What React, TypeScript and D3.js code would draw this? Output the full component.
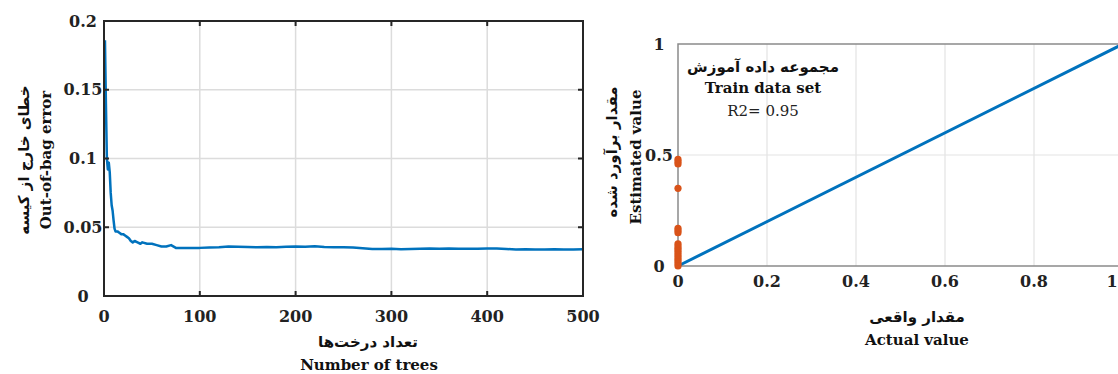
import React from "react";
import * as d3 from "d3";

// left panel: out-of-bag error vs number of trees
const treeCounts = [1, 2, 3, 4, 5, 6, 7, 8, 9, 10, 11, 12, 14, 16, 18, 20, 22, 24, 26, 28, 30, 32, 35, 38, 40, 45, 50, 55, 60, 65, 70, 75, 80, 90, 100, 110, 120, 130, 140, 150, 160, 170, 180, 190, 200, 210, 220, 230, 240, 250, 260, 270, 280, 290, 300, 310, 320, 330, 340, 350, 360, 370, 380, 390, 400, 410, 420, 430, 440, 450, 460, 470, 480, 490, 500];
const oobError = [0.186, 0.14, 0.1, 0.092, 0.097, 0.09, 0.075, 0.066, 0.062, 0.055, 0.049, 0.047, 0.047, 0.046, 0.045, 0.045, 0.044, 0.043, 0.042, 0.04, 0.039, 0.04, 0.039, 0.038, 0.039, 0.038, 0.038, 0.037, 0.036, 0.036, 0.037, 0.035, 0.035, 0.035, 0.035, 0.0352, 0.0355, 0.036, 0.0358, 0.0356, 0.0355, 0.0357, 0.0355, 0.0358, 0.036, 0.0358, 0.0361, 0.0357, 0.0355, 0.0354, 0.0353, 0.0348, 0.0342, 0.0341, 0.0343, 0.034, 0.0342, 0.0344, 0.0345, 0.0344, 0.0346, 0.0344, 0.0343, 0.0343, 0.0346, 0.0345, 0.0342, 0.0339, 0.034, 0.0339, 0.0339, 0.034, 0.0338, 0.0339, 0.034];
const leftXTicks = [0, 100, 200, 300, 400, 500];
const leftYTicks = [0, 0.05, 0.1, 0.15, 0.2];

// right panel: estimated vs actual (train set)
const actualVals = [0, 0, 0, 0, 0, 0, 0, 0, 0, 0, 0, 0, 0, 0, 0, 0, 0, 0];
const estimatedVals = [0, 0.01, 0.02, 0.03, 0.04, 0.05, 0.06, 0.07, 0.08, 0.09, 0.1, 0.15, 0.16, 0.17, 0.35, 0.46, 0.47, 0.48];
const fitLine = [0, 1];
const rightXTicks = [0, 0.2, 0.4, 0.6, 0.8, 1];
const rightYTicks = [0, 0.5, 1];

const serif = "'DejaVu Serif', serif";
const persian = "'DejaVu Sans', sans-serif";
const blue = "#0072BD";
const orange = "#D95319";

export default function App() {
  const lx = d3.scaleLinear().domain([0, 500]).range([104, 583]);
  const ly = d3.scaleLinear().domain([0, 0.2]).range([296, 21]);
  const rx = d3.scaleLinear().domain([0, 1]).range([678, 1123]);
  const ry = d3.scaleLinear().domain([0, 1]).range([266, 44]);

  const oobPath = d3
    .line<number>()
    .x((d, i) => lx(treeCounts[i]))
    .y((d) => ly(d))(oobError);

  const fitPath = d3
    .line<number>()
    .x((d) => rx(d))
    .y((d) => ry(d))(fitLine);

  const fmt = (v: number) => String(v);

  return (
    <svg
      width={1118}
      height={374}
      style={{ position: "absolute", left: 0, top: 0, background: "#fff" }}
    >
      {/* ---------- left panel ---------- */}
      <g>
        {leftXTicks.slice(1, -1).map((t) => (
          <line key={"gx" + t} x1={lx(t)} x2={lx(t)} y1={ly(0)} y2={ly(0.2)} stroke="#dcdcdc" strokeWidth={1.5} />
        ))}
        {leftYTicks.slice(1, -1).map((t) => (
          <line key={"gy" + t} x1={lx(0)} x2={lx(500)} y1={ly(t)} y2={ly(t)} stroke="#dcdcdc" strokeWidth={1.5} />
        ))}
        <path d={oobPath ?? ""} fill="none" stroke={blue} strokeWidth={2.5} strokeLinejoin="round" />
        <rect x={lx(0)} y={ly(0.2)} width={lx(500) - lx(0)} height={ly(0) - ly(0.2)} fill="none" stroke="#262626" strokeWidth={2} />
        {leftXTicks.map((t) => (
          <g key={"tx" + t}>
            <line x1={lx(t)} x2={lx(t)} y1={ly(0)} y2={ly(0) - 5} stroke="#262626" strokeWidth={2} />
            <line x1={lx(t)} x2={lx(t)} y1={ly(0.2)} y2={ly(0.2) + 5} stroke="#262626" strokeWidth={2} />
            <text x={lx(t)} y={322} textAnchor="middle" fontFamily={serif} fontWeight="bold" fontSize={16} fill="#222">
              {fmt(t)}
            </text>
          </g>
        ))}
        {leftYTicks.map((t) => (
          <g key={"ty" + t}>
            <line x1={lx(0)} x2={lx(0) + 5} y1={ly(t)} y2={ly(t)} stroke="#262626" strokeWidth={2} />
            <line x1={lx(500)} x2={lx(500) - 5} y1={ly(t)} y2={ly(t)} stroke="#262626" strokeWidth={2} />
            <text x={83} y={ly(t)} dy="0.35em" textAnchor="middle" fontFamily={serif} fontWeight="bold" fontSize={16} fill="#222">
              {fmt(t)}
            </text>
          </g>
        ))}
        <text transform="translate(29,160) rotate(-90)" textAnchor="middle" fontFamily={persian} fontWeight="bold" fontSize={15} fill="#111" direction="rtl">
          خطای خارج از کیسه
        </text>
        <text transform="translate(51,160) rotate(-90)" textAnchor="middle" fontFamily={serif} fontWeight="bold" fontSize={15} fill="#111">
          Out-of-bag error
        </text>
        <text x={368} y={347} textAnchor="middle" fontFamily={persian} fontWeight="bold" fontSize={15} fill="#111" direction="rtl">
          تعداد درخت‌ها
        </text>
        <text x={369} y={370} textAnchor="middle" fontFamily={serif} fontWeight="bold" fontSize={15} fill="#111">
          Number of trees
        </text>
      </g>

      {/* ---------- right panel ---------- */}
      <g>
        {rightXTicks.slice(1, -1).map((t) => (
          <line key={"rgx" + t} x1={rx(t)} x2={rx(t)} y1={ry(0)} y2={ry(1)} stroke="#e3e3e3" strokeWidth={1.2} />
        ))}
        {rightYTicks.slice(1, -1).map((t) => (
          <line key={"rgy" + t} x1={rx(0)} x2={rx(1)} y1={ry(t)} y2={ry(t)} stroke="#e3e3e3" strokeWidth={1.2} />
        ))}
        <rect x={rx(0)} y={ry(1)} width={rx(1) - rx(0)} height={ry(0) - ry(1)} fill="none" stroke="#8a8a8a" strokeWidth={1.5} />
        <path d={fitPath ?? ""} fill="none" stroke={blue} strokeWidth={3} />
        {estimatedVals.map((v, i) => (
          <circle key={"pt" + i} cx={rx(actualVals[i])} cy={ry(v)} r={3.6} fill={orange} />
        ))}
        {rightXTicks.map((t) => (
          <text key={"rtx" + t} x={Math.min(rx(t), 1112)} y={287} textAnchor="middle" fontFamily={serif} fontWeight="bold" fontSize={16} fill="#222">
            {fmt(t)}
          </text>
        ))}
        {rightYTicks.map((t) => (
          <text key={"rty" + t} x={659} y={ry(t)} dy="0.35em" textAnchor="middle" fontFamily={serif} fontWeight="bold" fontSize={16} fill="#222">
            {fmt(t)}
          </text>
        ))}
        <text x={763} y={72} textAnchor="middle" fontFamily={persian} fontWeight="bold" fontSize={15} fill="#111" direction="rtl">
          مجموعه داده آموزش
        </text>
        <text x={763} y={93} textAnchor="middle" fontFamily={serif} fontWeight="bold" fontSize={15} fill="#111">
          Train data set
        </text>
        <text x={763} y={116} textAnchor="middle" fontFamily={serif} fontSize={15} fill="#222">
          R2= 0.95
        </text>
        <text transform="translate(617,152) rotate(-90)" textAnchor="middle" fontFamily={persian} fontWeight="bold" fontSize={15} fill="#111" direction="rtl">
          مقدار برآورد شده
        </text>
        <text transform="translate(641,157) rotate(-90)" textAnchor="middle" fontFamily={serif} fontWeight="bold" fontSize={15} fill="#111">
          Estimated value
        </text>
        <text x={917} y={322} textAnchor="middle" fontFamily={persian} fontWeight="bold" fontSize={15} fill="#111" direction="rtl">
          مقدار واقعی
        </text>
        <text x={917} y={345} textAnchor="middle" fontFamily={serif} fontWeight="bold" fontSize={15} fill="#111">
          Actual value
        </text>
      </g>
    </svg>
  );
}
